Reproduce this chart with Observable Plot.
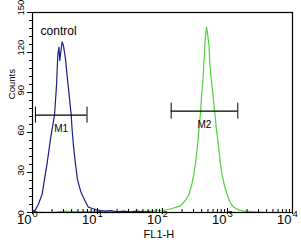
<!DOCTYPE html>
<html>
<head>
<meta charset="utf-8">
<script src="https://cdn.jsdelivr.net/npm/d3@7"></script>
<script src="https://cdn.jsdelivr.net/npm/@observablehq/plot@0.6"></script>
<style>
  html, body { margin: 0; padding: 0; background: #fff; }
  #chart svg { display: block; overflow: visible; }
</style>
</head>
<body>
<div id="chart"></div>
<script>
// Control histogram (FL1-H value, counts)
const controlX = [1.0, 1.04, 1.11, 1.23, 1.41, 1.53, 1.68, 1.89, 2.18, 2.34, 2.45, 2.55, 2.63, 2.75, 2.86, 3.0, 3.22, 3.45, 3.72, 3.94, 4.07, 4.27, 4.57, 4.9, 5.5, 6.1, 6.53, 7.24, 8.32, 9.66, 11.2, 13, 16, 20, 25, 32, 40, 50, 63, 80, 100];
const controlY = [2, 1, 2, 6, 14, 25, 37, 55, 73, 95, 118, 124, 114, 122, 128, 125, 115, 100, 85, 73, 62, 50, 37, 25, 16, 11, 8, 4, 3, 2, 1.5, 1, 1.5, 0.5, 1, 0.5, 1, 0.5, 0.5, 0, 0];
// Stained sample histogram
const sampleX = [1, 2, 3, 5, 10, 20, 32.4, 65.3, 103.5, 141, 189, 224, 254, 279, 302, 324, 342, 363, 385, 398, 417, 437, 451, 475, 492, 519, 537, 568, 598, 638, 676, 735, 776, 828, 899, 966, 1047, 1148, 1250, 1479, 1762, 2692, 4571, 10000];
const sampleY = [0.5, 0, 1, 0.5, 1, 0.5, 0.5, 1, 1.5, 3, 5, 9, 13, 20, 28, 38, 48, 62, 75, 87, 98, 115, 128, 139, 135, 125, 110, 98, 88, 75, 62, 48, 37, 28, 20, 15, 10, 6, 4, 2, 1, 0.5, 0, 0];
// Gate markers
const markerNames = ["M1", "M2"];
const markerLo = [1.11, 136];
const markerHi = [6.9, 1440];
const markerLevel = [73, 76];
// Axis ticks
const xDecades = [1, 10, 100, 1000, 10000];
const xExponents = ["0", "1", "2", "3", "4"];
const yTicks = [0, 30, 60, 90, 120, 150];
const yMinor = d3.range(0, 151, 6);
const xMinor = xDecades.slice(0, 4).flatMap(d => [2,3,4,5,6,7,8,9].map(k => d * k));
// Axis titles and annotation
const xTitle = "FL1-H";
const xTitleAt = 88;
const yTitle = "Counts";
const yTitleAt = 85;
const noteText = ["control"];
const noteX = [1.33];
const noteY = [136];

const control = controlX.map((x, i) => ({x, y: controlY[i]}));
const sample = sampleX.map((x, i) => ({x, y: sampleY[i]}));
const markers = markerNames.map((name, i) => ({name, lo: markerLo[i], hi: markerHi[i], y: markerLevel[i], mid: Math.sqrt(markerLo[i] * markerHi[i])}));

const narrow = "'Liberation Sans Narrow', 'Liberation Sans', Arial, sans-serif";
const sans = "'Liberation Sans', Arial, sans-serif";

const chart = Plot.plot({
  width: 301,
  height: 243,
  marginLeft: 32,
  marginRight: 9,
  marginTop: 12,
  marginBottom: 31,
  x: {type: "log", domain: [1, 10000], axis: null},
  y: {domain: [0, 150], axis: null},
  style: {background: "#fff", fontFamily: sans},
  marks: [
    Plot.line(sample, {x: "x", y: "y", stroke: "#4fd23a", strokeWidth: 1.2}),
    Plot.line(control, {x: "x", y: "y", stroke: "#1b1f86", strokeWidth: 1.2}),
    Plot.frame({stroke: "#000", strokeWidth: 1.2}),
    // y ticks (outward)
    Plot.tickY(yTicks, {y: d => d, insetRight: 255, dx: -5, stroke: "#000"}),
    Plot.tickY(yMinor, {y: d => d, insetRight: 257, dx: -3, stroke: "#000"}),
    // x ticks
    Plot.tickX(xDecades, {x: d => d, insetTop: 194, dy: 2, stroke: "#000"}),
    Plot.tickX(xMinor, {x: d => d, insetTop: 197, stroke: "#000"}),
    // x tick labels 10^n
    Plot.text(xDecades, {x: d => d, text: () => "10", frameAnchor: "bottom", dy: 11, dx: -1, textAnchor: "end", fontSize: 13, fontFamily: narrow, fill: "#000"}),
    Plot.text(xDecades, {x: d => d, text: (d, i) => xExponents[i], frameAnchor: "bottom", dy: 4, dx: 0, textAnchor: "start", fontSize: 9.5, fontFamily: narrow, fill: "#000"}),
    // y tick labels
    Plot.text(yTicks, {y: d => d, text: d => String(d), frameAnchor: "left", dx: -12, dy: 3, rotate: -90, fontSize: 9.5, fill: "#000"}),
    // axis titles
    Plot.text([xTitle], {x: () => xTitleAt, text: d => d, frameAnchor: "bottom", dy: 25, textAnchor: "middle", fontSize: 11, fontFamily: narrow, fill: "#000"}),
    Plot.text([yTitle], {y: () => yTitleAt, text: d => d, frameAnchor: "left", dx: -21, rotate: -90, fontSize: 9.5, fill: "#000"}),
    // markers
    Plot.ruleY(markers, {y: "y", x1: "lo", x2: "hi", stroke: "#000", strokeWidth: 1.2}),
    Plot.ruleX(markers, {x: "lo", y1: d => d.y - 6, y2: d => d.y + 6, stroke: "#000"}),
    Plot.ruleX(markers, {x: "hi", y1: d => d.y - 6, y2: d => d.y + 6, stroke: "#000"}),
    Plot.text(markers, {x: "mid", y: "y", text: "name", dy: 14, fontSize: 10, fill: "#000"}),
    // annotation
    Plot.text(noteText, {x: (d, i) => noteX[i], y: (d, i) => noteY[i], text: d => d, textAnchor: "start", fontSize: 12, fill: "#000"})
  ]
});
document.getElementById("chart").append(chart);
</script>
</body>
</html>
